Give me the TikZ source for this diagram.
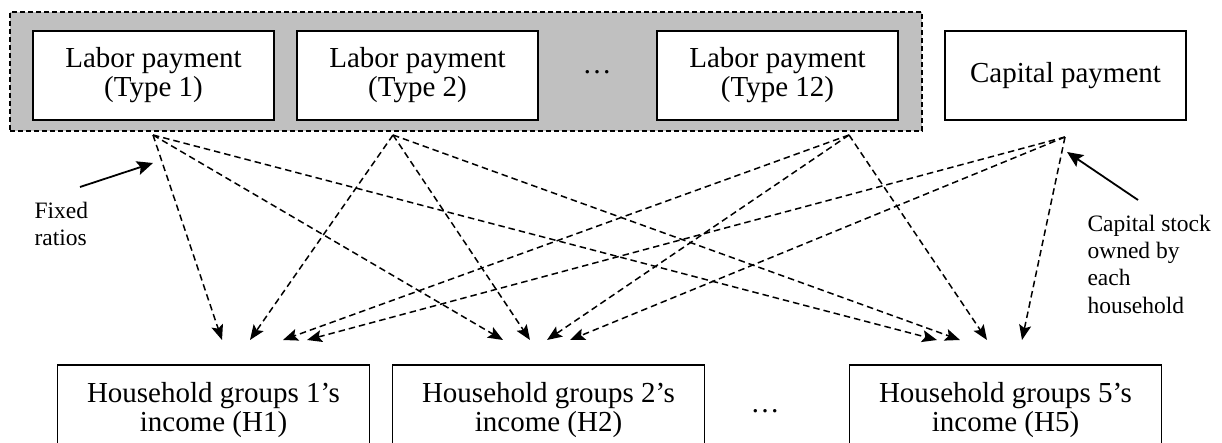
\documentclass[tikz,border=0pt]{standalone}
\usepackage{fontspec}
\setmainfont{Liberation Serif}
\usetikzlibrary{arrows.meta}
\definecolor{silverfill}{HTML}{C0C0C0}
\begin{document}
\begin{tikzpicture}[x=1pt,y=-1pt,
  big/.style={font=\fontsize{29}{29}\selectfont},
  small/.style={font=\fontsize{23.5}{27.3}\selectfont},
  box/.style={draw=black, line width=1.8pt, fill=white, inner sep=0pt, align=center, big},
  topbox/.style={box, minimum width=241pt, minimum height=89pt},
  hbox/.style={box, minimum width=312pt, minimum height=90pt},
  flow/.style={line width=1.5pt, dash pattern=on 6.5pt off 4pt, -{Stealth[length=15pt,width=12pt,inset=3pt]}},
  note/.style={line width=1.8pt, -{Stealth[length=16pt,width=14pt,inset=3pt]}}
]
\fill[white] (0,0) rectangle (1222,443);
\useasboundingbox (0,0) rectangle (1222,443);

% grouped labour payments
\node[draw=black, fill=silverfill, line width=1.8pt, dash pattern=on 5pt off 3pt,
      minimum width=912pt, minimum height=119pt, inner sep=0pt] (grp) at (466,71.5) {};
\node[topbox] (t1)  at (153.5,75.5) {Labor payment\\(Type 1)};
\node[topbox] (t2)  at (417.5,75.5) {Labor payment\\(Type 2)};
\node[big, anchor=base] (dotsA) at (597,74) {\ldots};
\node[topbox] (t12) at (777.5,75.5) {Labor payment\\(Type 12)};
\node[topbox] (cap) at (1065.5,75.5) {Capital payment};

% household boxes
\node[hbox] (h1) at (213.5,410) {Household groups 1’s\\income (H1)};
\node[hbox] (h2) at (548.5,410) {Household groups 2’s\\income (H2)};
\node[big, anchor=base] (dotsB) at (765,412) {\ldots};
\node[hbox] (h5) at (1005.5,410) {Household groups 5’s\\income (H5)};

% annotations
\node[small, align=left, anchor=base west] (fixed) at (31,246) {Fixed\\ratios};
\node[small, align=left, anchor=base west] (stock) at (1084,313) {Capital stock\\owned by\\each\\household};

% source points
\coordinate (s1)  at (153,135);
\coordinate (s2)  at (393,135);
\coordinate (s12) at (849,135);
\coordinate (sc)  at (1065,137);

% target points
\coordinate (a1) at (222,340);
\coordinate (a2) at (250,340);
\coordinate (a3) at (283,340);
\coordinate (a4) at (307,340);
\coordinate (b1) at (503,340);
\coordinate (b2) at (530,340);
\coordinate (b3) at (547,340);
\coordinate (b4) at (570,340);
\coordinate (c1) at (937,340);
\coordinate (c2) at (960,340);
\coordinate (c3) at (987,340);
\coordinate (c4) at (1022,340);

\draw[flow] (s1) -- (a1);
\draw[flow] (s1) -- (b1);
\draw[flow] (s1) -- (c1);
\draw[flow] (s2) -- (a2);
\draw[flow] (s2) -- (b2);
\draw[flow] (s2) -- (c2);
\draw[flow] (s12) -- (a3);
\draw[flow] (s12) -- (b3);
\draw[flow] (s12) -- (c3);
\draw[flow] (sc) -- (a4);
\draw[flow] (sc) -- (b4);
\draw[flow] (sc) -- (c4);

% annotation arrows
\coordinate (fA) at (80,187);
\coordinate (fB) at (153,163);
\coordinate (kA) at (1138,200);
\coordinate (kB) at (1067,152);
\draw[note] (fA) -- (fB);
\draw[note] (kA) -- (kB);
\end{tikzpicture}
\end{document}
